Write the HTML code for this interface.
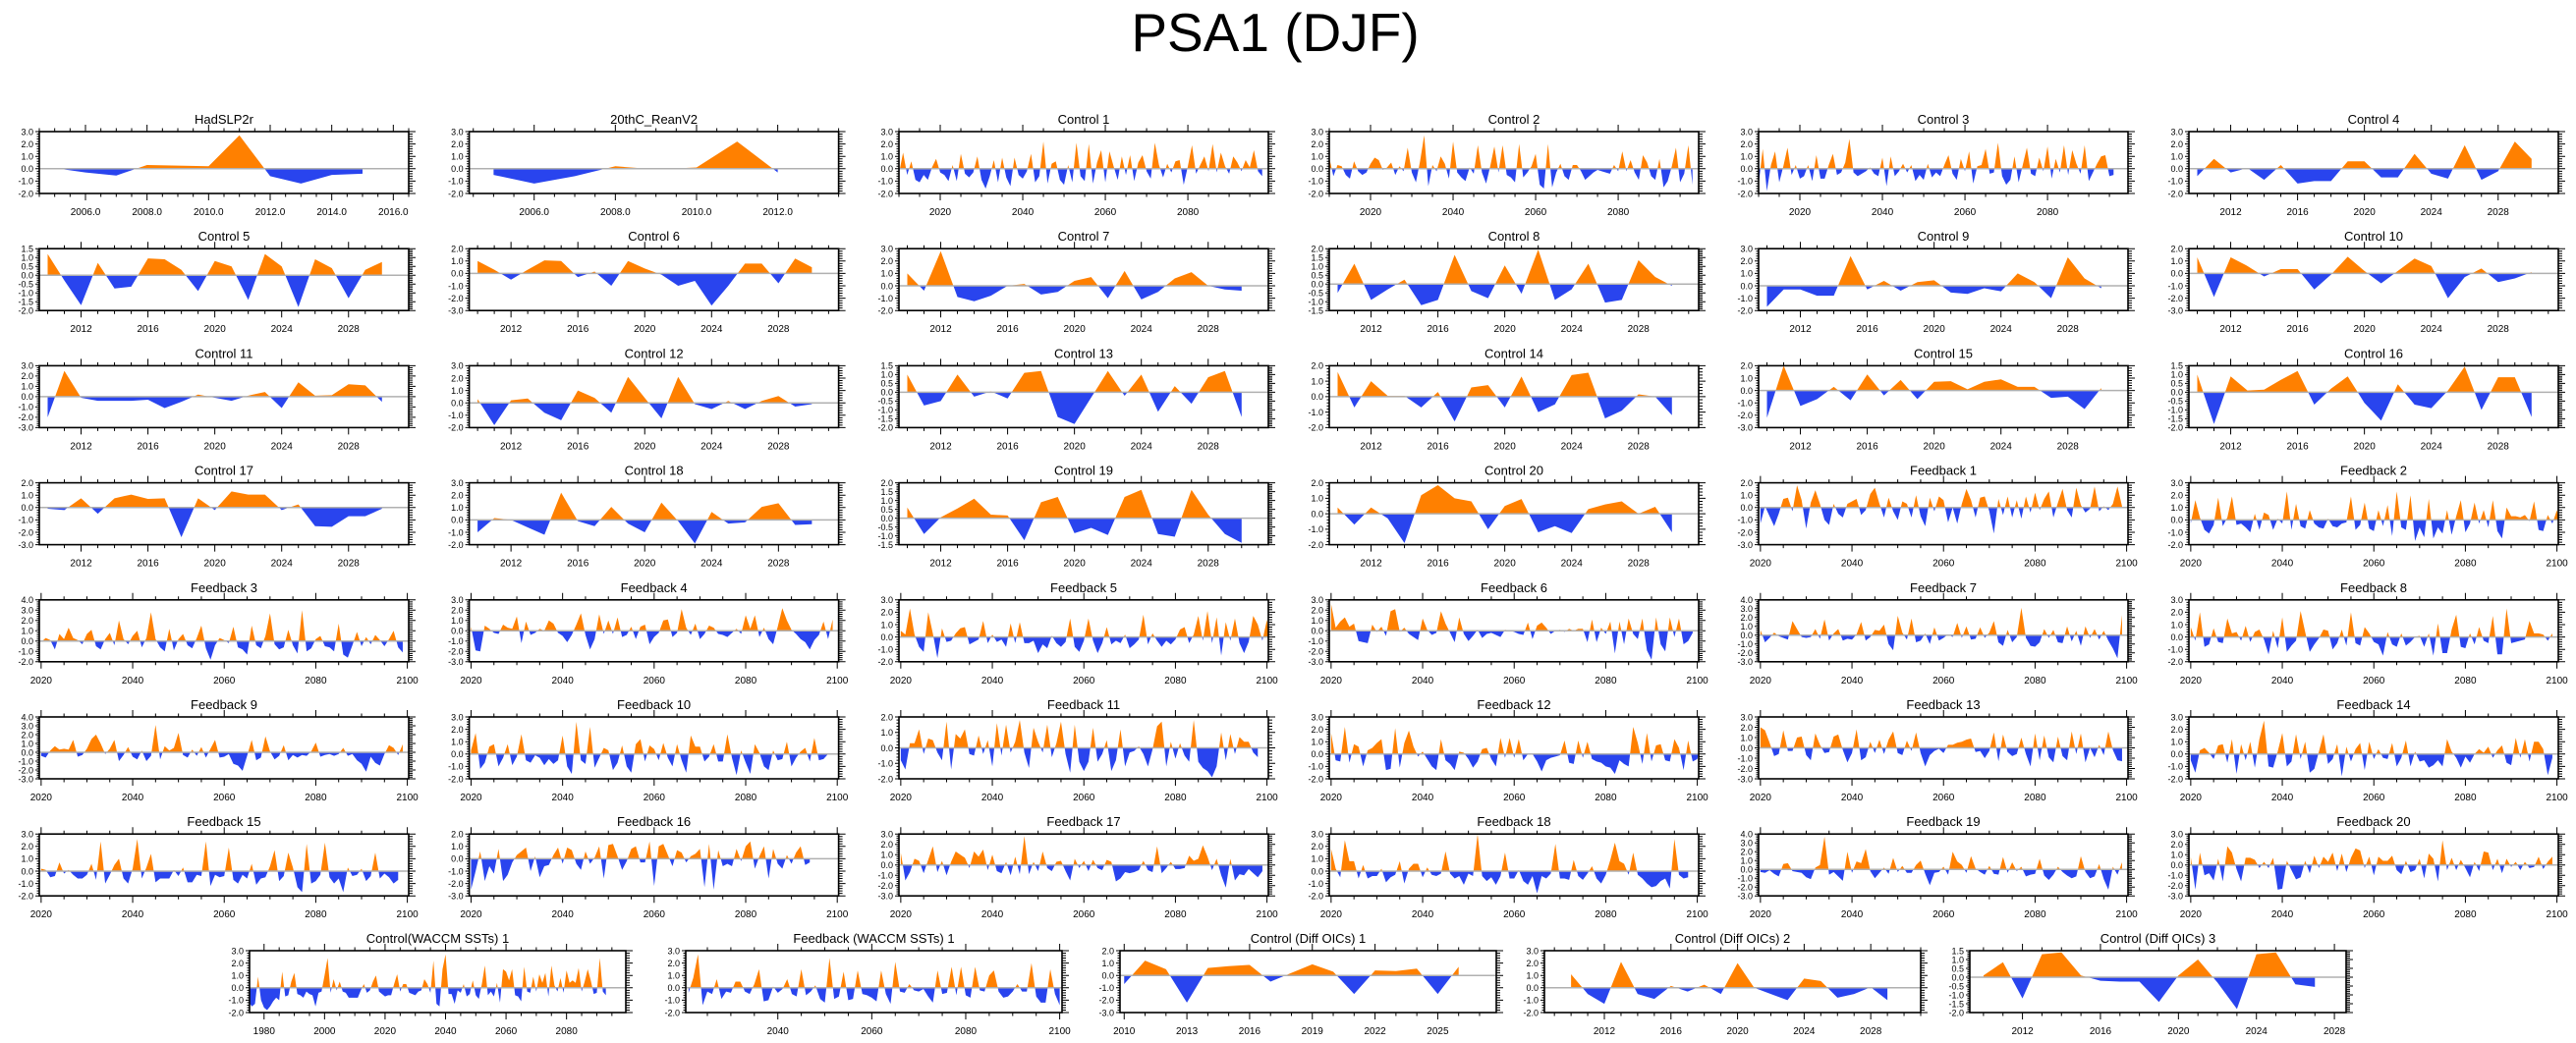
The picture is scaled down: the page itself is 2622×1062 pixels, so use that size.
<!DOCTYPE html>
<html><head><meta charset="utf-8"><title>PSA1 (DJF)</title>
<style>
html,body{margin:0;padding:0;background:#fff;}
svg{display:block;font-family:"Liberation Sans",Arial,sans-serif;}
</style></head>
<body>
<svg id="fig" width="2622" height="1062" viewBox="0 0 2622 1062" xmlns="http://www.w3.org/2000/svg">
<rect x="0" y="0" width="2622" height="1062" fill="#fff"/>
<text x="1298" y="52" font-size="55" text-anchor="middle" fill="#000">PSA1 (DJF)</text>
</svg>
<script>
// ---- data ----
const hadslp2r = [0.05,-0.3,-0.55,0.3,0.25,0.2,2.7,-0.6,-1.2,-0.5,-0.4];
const reanv2 = [-0.5,-1.2,-0.6,0.2,-0.05,0.1,2.2,-0.3];
const control1 = [-0.4,1.3,-0.5,0.6,-0.9,-1.1,-0.5,-0.9,0.1,0.8,-0.3,-0.5,-1.0,0.3,-1.0,1.2,-0.4,-0.7,-0.3,1.0,-0.9,-1.6,-0.6,0.7,-1.1,0.9,-0.7,-1.4,0.9,-0.5,-0.8,-0.2,1.2,-1.1,-0.6,2.2,-1.2,0.4,0.6,-0.9,-1.3,0.3,-1.1,2.1,-0.6,-1.0,2.0,-1.2,0.5,1.5,-1.1,1.4,0.2,-0.9,1.0,-0.5,1.1,-1.0,0.5,1.1,-0.2,-0.8,2.1,0.3,-0.7,0.4,-0.3,0.6,0.7,-1.3,0.2,1.9,-0.4,0.3,1.0,-0.2,2.0,-0.3,1.3,0.2,-0.4,1.0,0.5,-0.2,0.7,0.1,1.5,-0.2,-0.6];
const control2 = [0.9,-0.6,0.3,0.2,-0.5,-0.8,0.6,-0.2,-0.5,-0.3,0.4,0.9,0.7,-0.1,0.1,0.5,-0.5,0.2,-0.2,1.7,-0.3,-1.1,0.6,2.7,-1.4,0.3,-0.2,1.0,0.4,-0.8,2.2,-0.3,-0.7,-1.0,0.1,-0.4,1.9,-0.3,-1.2,0.2,1.8,-0.3,1.9,-0.5,-0.7,-1.1,2.0,-0.7,-0.3,0.2,1.2,-1.3,-1.6,2.0,-1.5,-0.3,0.4,-0.6,-0.9,0.3,0.3,-0.2,-0.9,-0.6,-0.3,-0.1,-0.2,-0.3,-0.4,0.3,-0.2,1.4,-0.2,0.7,-0.3,-0.9,1.1,0.5,-0.6,-0.9,0.8,-1.5,-1.0,0.2,1.7,-1.1,-0.4,1.9,-1.3];
const control3 = [-1.3,1.6,-1.8,0.3,1.4,-1.1,0.2,1.7,-0.5,0.3,-0.8,-0.6,0.3,-1.0,1.1,-0.8,-0.8,0.3,1.2,-0.5,-0.3,0.5,2.4,-0.3,-0.6,-0.4,-0.2,0.1,-0.4,-0.6,0.9,-1.4,1.0,-0.6,-0.2,0.4,-0.3,0.3,-1.0,-0.5,-0.9,0.4,-0.7,-0.3,-0.6,0.3,1.1,-0.4,-0.9,0.8,-0.2,1.4,-1.2,0.2,0.3,1.6,-0.4,-0.3,2.1,-0.6,-1.3,-0.9,1.0,-1.1,0.3,1.7,-0.4,-0.6,0.9,-0.2,1.8,-0.8,0.8,-0.3,1.9,-0.5,1.5,0.4,-0.4,1.9,-1.0,-0.3,0.4,1.0,1.1,-0.6,-0.5];
const control4 = [-0.6,0.8,-0.3,0.05,-0.9,0.3,-1.2,-1.0,-1.0,0.6,0.6,-0.7,-0.7,1.2,-0.4,-0.8,1.9,-0.9,-0.2,2.2,0.8];
const control5 = [1.2,-0.3,-1.7,0.7,-0.75,-0.65,0.95,0.9,0.3,-0.9,0.8,0.5,-1.4,1.2,0.5,-1.8,0.9,0.4,-1.3,0.3,0.75];
const control6 = [1.0,0.3,-0.5,0.3,1.05,1.0,-0.3,0.15,-1.0,1.0,0.4,-0.1,-1.0,-0.6,-2.6,-1.0,0.8,0.8,-0.8,1.2,0.5];
const control7 = [1.0,-0.4,2.8,-0.9,-1.25,-0.8,0.0,0.15,-0.7,-0.5,0.4,0.7,-1.0,1.2,-1.1,-0.5,0.6,1.1,0.0,-0.3,-0.4];
const control8 = [-0.5,1.15,-0.9,-0.3,0.25,-1.2,-0.9,1.65,-0.4,-0.8,1.05,-0.55,1.95,-0.9,-0.3,1.15,-1.05,-0.9,1.35,0.4,-0.1];
const control9 = [-1.7,-0.3,-0.3,-0.8,-0.8,2.4,-0.3,0.4,-0.4,0.3,0.45,-0.55,-0.65,-0.2,-0.45,1.0,0.3,-1.0,2.3,0.6,-0.2];
const control10 = [1.3,-1.9,1.3,0.6,-0.25,0.35,0.35,-1.3,-0.1,1.35,0.2,-0.8,0.2,1.2,0.6,-2.0,-0.3,0.4,-0.7,-0.4,0.1];
const control11 = [-2.0,2.5,-0.1,-0.4,-0.4,-0.4,-0.3,-1.1,-0.5,0.2,-0.1,-0.4,0.1,0.45,-1.1,1.4,0.1,0.15,1.2,1.1,-0.5];
const control12 = [0.3,-1.8,0.2,0.35,-0.8,-1.4,1.0,0.4,-0.8,2.1,0.4,-1.25,2.1,-0.1,-0.5,0.15,-0.5,0.15,0.55,-0.3,-0.1];
const control13 = [1.0,-0.75,-0.5,1.0,-0.25,0.05,-0.35,1.1,1.2,-1.4,-1.8,-0.3,1.2,-0.2,1.0,-1.1,0.35,-0.65,0.85,1.2,-1.4];
const control14 = [1.6,-0.7,1.0,0.05,0.05,-0.7,0.3,-1.6,0.6,0.75,-0.7,1.3,-1.0,-0.5,1.4,1.55,-1.4,-0.9,0.15,0.0,-1.2];
const control15 = [-2.2,2.0,-1.25,-0.7,0.3,-0.8,1.3,-0.4,0.85,-0.7,0.7,0.75,0.1,0.7,0.9,0.3,0.3,-0.6,-0.5,-1.5,0.2];
const control16 = [1.0,-1.8,0.9,0.1,0.15,0.7,1.2,-0.7,0.2,0.9,-0.6,-1.6,0.45,-0.7,-0.9,0.1,1.45,-1.0,0.85,0.85,-1.4];
const control17 = [-0.1,-0.2,0.75,-0.5,0.75,1.05,0.7,0.75,-2.4,0.75,-0.2,1.3,1.05,1.05,-0.2,0.25,-1.5,-1.55,-0.7,-0.7,-0.1];
const control18 = [-1.0,0.15,0.0,-0.6,-1.2,2.2,-0.1,-0.5,1.05,-0.3,-1.0,1.4,-0.1,-1.9,0.65,-0.3,-0.2,1.05,1.35,-0.4,-0.35];
const control19 = [0.6,-0.9,0.05,0.55,1.1,0.2,0.15,-1.25,0.9,1.2,-0.85,-0.55,-0.95,1.2,1.6,-0.9,-1.05,1.6,0.2,-0.9,-1.4];
const control20 = [0.4,-0.7,0.4,-0.3,-1.9,1.2,1.85,1.0,0.8,-1.0,0.5,0.95,-1.2,-0.8,-1.25,0.3,0.6,0.8,0.0,0.45,-1.2];
const feedback1 = [-1.3,0.1,-0.7,-1.5,-0.5,0.7,0.8,-0.3,1.8,0.6,-1.7,0.4,1.4,0.3,-1.0,-1.4,0.3,-0.5,-0.8,0.3,0.5,0.7,-0.6,-0.2,1.1,1.6,0.3,-0.8,0.8,-0.3,-1.0,0.5,0.3,-0.8,1.0,-0.7,-1.5,0.8,-0.3,0.9,0.6,-1.2,0.0,-1.3,0.3,1.5,0.6,-0.8,0.8,0.9,-0.3,-2.1,0.7,-0.6,0.9,-0.8,0.6,-0.9,0.9,-0.4,1.2,-0.2,0.7,1.3,-0.8,0.4,1.5,-0.2,-0.8,1.6,0.2,-0.4,-0.1,1.7,-0.3,0.1,-0.2,0.3,1.7,0.1];
const feedback2 = [-0.3,1.6,0.2,-0.8,-1.1,-0.4,1.8,-0.5,0.2,1.9,-0.4,-0.3,-0.6,-1.0,0.5,-0.8,0.6,0.4,-0.8,0.1,-0.3,2.3,-0.8,1.3,-0.5,-0.7,0.8,-0.3,-0.6,-0.7,0.1,-0.5,-0.6,-0.3,-0.2,1.9,-0.8,-0.4,1.4,-0.7,-0.9,0.8,-0.5,1.2,-1.3,2.3,-0.6,-0.8,2.0,-1.7,-0.6,-1.4,1.7,-1.5,-0.6,-1.1,0.8,-1.2,0.3,1.6,-1.0,-0.3,1.4,-0.3,0.8,-0.6,1.6,-0.9,-1.5,1.0,0.3,0.3,0.2,0.4,-0.1,1.5,-0.8,-0.9,0.4,-0.3,0.8,-1.0,-0.9];
const feedback3 = [-0.1,0.3,0.1,-0.8,0.7,0.2,1.3,0.3,0.1,-0.3,0.7,1.1,-0.5,-0.8,0.2,0.8,-0.4,2.0,0.2,-0.3,0.5,1.0,-0.6,0.3,2.8,0.2,-0.6,-1.0,1.2,-0.9,0.2,0.7,-0.4,-0.7,0.3,1.5,-0.7,-1.8,-0.4,0.3,0.1,-0.2,1.4,-0.6,-0.8,-1.3,1.5,-0.4,-0.7,0.5,2.7,-0.3,-0.8,-0.6,1.1,-0.4,-1.2,3.0,-1.0,-0.7,0.2,0.5,-0.5,-0.6,-1.0,1.7,-1.3,-1.6,-0.4,0.9,-0.5,0.4,-0.3,0.6,0.1,-0.5,0.2,1.0,-0.6,-1.1];
const feedback4 = [0.4,-1.9,-2.0,0.5,0.2,-0.2,-0.3,0.6,0.3,0.2,1.4,-1.2,0.9,-0.4,-0.2,0.2,0.0,1.0,0.7,-0.2,-0.5,-1.1,-0.4,0.6,1.7,-0.4,-1.8,-0.8,1.6,-0.3,1.0,-0.3,1.3,-0.6,-0.4,0.4,-0.8,0.4,0.6,-1.3,-0.6,-0.2,1.0,1.1,-0.6,-0.2,2.1,0.3,-0.4,0.7,-0.8,-0.3,0.5,0.3,-0.3,-0.4,-0.6,-0.2,0.2,-0.3,1.5,0.2,1.5,-0.6,0.3,-0.8,-1.3,0.4,2.2,1.0,0.1,-0.3,-0.8,-1.1,-1.8,-0.9,-0.4,0.9,-0.8,1.1];
const feedback5 = [0.5,0.2,2.3,0.2,-0.8,-1.2,2.0,0.3,-1.7,0.7,-0.4,-0.3,0.3,0.7,0.8,-0.6,-0.4,-0.2,1.3,-0.5,0.2,-0.4,-0.2,-0.8,1.1,-0.5,1.2,-0.5,-0.5,-0.3,-1.3,-0.6,-0.9,0.1,-0.5,-0.8,-0.4,1.5,-0.8,-1.2,-0.3,1.5,-0.3,-1.3,-0.5,0.8,-0.6,-0.3,-0.5,0.2,-0.9,-0.6,-0.2,1.8,-0.6,0.3,-0.3,-0.8,-0.3,-0.6,-0.2,0.6,0.8,-0.5,0.2,1.7,-0.3,2.1,-0.5,1.6,-1.5,1.2,-0.3,1.5,-0.5,-1.3,-0.4,1.7,1.0,-0.3,1.4,-1.8,0.5];
const feedback6 = [2.6,0.3,0.9,1.3,0.4,0.7,-1.0,-1.1,-1.2,0.6,-0.1,0.4,-0.5,1.9,2.1,-0.1,0.3,-0.3,-0.6,-0.9,1.2,0.1,-0.4,-0.2,1.9,0.7,-0.2,-1.1,1.3,-0.3,-1.0,-0.5,0.1,-0.7,-0.3,-0.2,-0.4,-0.6,0.1,0.0,-0.1,-0.3,-0.4,0.8,-0.8,0.5,0.8,0.3,-0.3,0.0,0.1,-0.1,0.2,0.0,0.2,0.2,-1.1,1.1,-1.1,0.3,-0.3,0.9,-2.2,0.9,-1.3,1.2,-0.3,-0.8,1.2,-1.9,-2.8,1.3,-1.3,-2.0,1.3,-0.6,1.2,-1.3,-1.0,-0.2];
const feedback7 = [0.6,-0.8,-0.3,0.3,-0.1,-0.3,-0.5,1.6,0.7,-0.2,-0.3,-0.2,0.7,-0.4,1.8,-0.6,0.2,0.7,-0.6,-0.4,-0.5,0.1,1.5,-0.6,-0.2,0.6,0.5,1.2,-1.0,-1.7,2.2,0.3,-0.5,1.9,-0.8,-0.6,0.2,-1.0,0.9,-0.6,-0.3,0.1,-0.2,1.4,-0.3,1.0,-0.5,-0.4,0.9,-0.3,0.3,1.6,-0.8,-1.2,0.6,-0.8,-0.2,3.1,-0.3,-1.2,-1.3,-0.8,0.7,-0.3,0.6,-0.8,-0.9,1.0,-0.7,0.5,-1.2,1.0,-0.3,0.7,-0.5,0.5,-0.6,-1.5,-2.6,2.3];
const feedback8 = [0.8,-0.3,2.0,-0.8,-0.6,0.7,-0.4,-0.5,1.5,0.3,0.4,-0.3,0.9,-0.4,0.4,0.6,-0.2,-1.4,0.5,-0.9,1.6,-1.2,-0.7,-0.3,2.1,0.4,-1.2,-0.6,-0.1,0.6,0.5,-1.0,-0.5,0.6,-0.7,2.0,-0.5,-0.7,0.8,0.3,-0.4,-0.6,-1.5,0.4,-0.6,-0.8,0.3,-0.7,-0.4,0.0,0.1,-0.8,0.3,-1.5,1.1,-1.3,-1.3,0.6,1.8,-0.8,-0.9,0.3,-0.6,0.8,-0.3,-0.5,1.7,-1.4,-1.4,2.3,-0.5,-0.4,-0.3,-0.2,1.3,0.3,0.3,0.2,-0.3,0.3];
const feedback9 = [-0.4,-0.6,0.2,0.7,0.3,0.4,0.3,1.4,-0.5,-0.3,0.4,1.5,2.0,1.0,-0.2,0.4,1.4,-1.0,-0.3,0.6,-0.5,-0.8,0.2,-1.0,-0.4,3.1,-0.8,0.7,0.2,0.5,2.2,-0.3,-0.6,0.3,-0.4,0.6,-0.6,0.4,1.4,-0.6,-0.5,-0.2,-1.3,-1.5,-2.1,-0.4,1.4,-0.9,-0.6,1.8,0.1,-0.8,-0.4,0.8,-0.9,-0.3,-0.6,-0.3,-0.4,0.1,1.1,-0.5,-0.3,-0.2,-0.4,-0.2,0.5,-0.4,-0.2,-0.9,-1.3,-2.2,-0.5,-1.2,-1.5,-0.2,0.8,0.5,-0.3,0.9];
const feedback10 = [0.3,1.7,-1.2,-0.7,0.6,0.8,-1.0,-0.3,0.8,-0.9,-0.2,1.6,-0.5,-0.7,-0.1,-0.3,-0.9,-0.4,-0.8,-0.5,1.5,-1.0,-1.6,2.6,-0.5,-0.8,2.2,-1.1,-0.3,0.5,0.3,-1.3,-0.7,0.7,-1.0,-1.5,0.8,1.2,-0.6,0.7,0.4,-0.5,0.9,-0.3,-1.0,0.8,-0.5,-1.5,1.5,0.6,0.6,-0.6,-0.2,0.8,-0.6,-0.6,1.6,-0.3,-1.7,0.3,-0.7,-1.6,0.8,0.1,-1.0,-1.3,0.3,-0.5,-0.4,1.0,-1.0,-0.3,0.2,0.5,-0.6,1.3,-0.5,-0.4,0.0];
const feedback11 = [-0.8,-1.4,0.3,0.3,1.2,-0.4,0.6,0.5,-0.3,-0.8,1.7,-1.4,0.9,0.6,1.2,-0.4,-0.5,0.8,-0.4,0.5,-1.2,1.6,-0.5,1.5,-0.3,0.4,1.8,-0.3,-1.3,1.3,0.4,-0.3,1.5,-0.6,0.3,1.7,-0.4,-1.6,1.5,-0.9,-1.5,-0.9,1.3,-0.9,-0.4,0.5,-1.5,-0.8,1.2,-1.2,-0.3,-0.2,0.1,-0.4,-1.2,-0.1,1.4,1.7,-1.2,0.4,-0.7,0.3,-0.5,-0.9,1.8,-0.9,-1.3,-1.5,-1.9,-1.2,1.0,-0.8,0.9,-0.4,0.7,0.4,0.4,-0.3,-0.6];
const feedback12 = [1.7,-0.5,-0.6,2.2,-0.7,0.8,0.6,-1.0,0.3,0.5,0.9,1.2,-1.3,-1.2,2.1,-1.1,0.9,1.9,0.6,-0.2,0.2,-0.4,-1.0,-1.3,1.2,-0.5,-0.8,-1.3,0.2,0.1,-0.4,-1.1,-0.6,0.4,0.5,-0.4,-1.0,1.3,-0.3,1.3,-0.3,1.2,-0.5,0.0,0.0,-0.6,-1.4,-0.5,-0.3,-0.2,-0.1,1.1,-0.7,-0.8,1.1,-0.3,1.0,-0.4,-0.6,-0.7,-1.0,-1.1,-1.6,-0.5,-0.8,-1.0,2.2,0.9,-0.8,1.7,-0.6,0.7,0.8,-0.5,-0.6,1.2,0.5,-1.3,1.1,-0.6,-0.4,1.3];
const feedback13 = [2.0,1.7,0.5,-0.8,-0.6,1.7,-0.3,-0.3,1.0,1.1,-0.7,-1.2,1.4,0.3,-0.5,-0.4,1.1,1.3,-0.2,-1.4,-0.5,1.8,-1.2,-0.9,0.6,-0.5,0.8,-0.6,0.8,1.6,-0.5,-0.7,0.7,-0.3,1.5,-0.5,-1.8,-0.7,-0.3,-0.1,-0.5,0.3,0.3,0.5,0.6,0.8,0.9,-0.4,-0.3,-1.0,-0.3,1.5,-1.3,1.3,-0.4,-0.8,-0.6,1.0,-0.6,-1.8,1.4,-1.2,1.2,-0.9,-1.4,1.1,-0.8,-1.2,1.6,-0.6,1.4,-1.4,0.0,-0.9,0.3,-0.7,1.6,-0.2,-1.2,-1.3];
const feedback14 = [-0.5,-1.5,0.3,0.5,0.1,-0.4,0.7,0.8,-0.7,1.2,-1.6,0.8,-0.5,1.0,-1.1,1.2,2.7,-1.0,-1.1,0.2,1.7,-1.0,-0.6,1.6,-0.4,1.0,-1.5,-1.2,0.2,1.6,-0.8,-0.4,0.8,-1.8,0.6,-0.6,0.4,0.9,-1.3,1.0,-0.4,0.4,-0.3,-0.4,0.9,-1.0,-0.3,1.1,-1.0,0.2,-0.6,-0.5,-1.1,-0.9,-0.5,-1.0,1.2,0.2,-0.3,-1.1,-0.2,-0.7,0.0,0.4,0.1,0.6,-0.3,0.3,0.7,-0.7,-0.9,1.3,-0.3,1.2,-0.6,1.0,1.0,0.4,-1.7,-0.3];
const feedback15 = [0.2,0.1,-0.5,-0.4,0.7,-0.2,0.1,-0.3,-0.6,-0.6,-0.3,0.6,-0.7,2.4,-1.0,-0.3,0.5,1.0,-0.6,-1.0,0.2,2.6,-0.6,0.3,1.4,-0.9,-0.6,-0.6,-0.6,0.1,-0.4,0.3,-0.9,-0.9,-0.3,-0.4,2.4,-1.2,-0.3,-0.5,-0.4,1.9,-0.7,-1.0,-0.3,-0.6,0.6,-1.1,-0.6,-0.5,0.4,1.7,-0.8,-0.4,1.5,0.3,-1.3,-1.7,2.2,-1.0,-0.8,-0.3,2.3,-0.5,-1.0,-0.6,-1.7,0.3,-0.4,-0.3,0.2,-0.8,-0.4,1.5,-0.6,-0.2,-0.5,-1.0,-0.7];
const feedback16 = [-2.5,-1.0,0.6,-1.8,-0.6,-1.2,0.8,-1.8,-1.3,-0.3,0.3,0.6,0.9,-1.0,0.2,-1.5,-0.6,-0.5,0.3,0.9,-0.4,0.9,0.7,-0.4,-0.9,0.6,-0.4,0.1,1.0,-1.6,1.1,1.2,0.2,-0.9,-0.2,0.8,1.0,-0.3,-0.3,1.4,-2.2,1.0,1.2,0.3,-0.6,0.7,0.5,-0.3,0.2,0.4,0.8,-2.3,1.2,-2.5,0.7,-0.6,-0.4,-0.6,0.8,-0.2,1.0,1.4,-0.8,0.2,1.0,-1.6,0.8,-0.4,-0.8,0.3,-0.4,0.5,1.0,-0.5,-0.3];
const feedback17 = [1.2,-1.5,-0.7,0.6,0.4,-0.8,0.5,1.8,-0.7,0.4,-1.0,0.3,1.3,1.0,0.7,-0.3,1.3,0.8,1.5,-0.5,1.0,-0.6,-0.8,0.3,-1.0,0.8,-0.9,2.8,-0.9,0.3,-0.6,1.3,-0.3,-0.6,0.3,0.4,-0.6,-1.5,0.6,-0.3,0.4,-0.6,0.5,-0.3,-0.5,0.5,0.3,-1.6,-1.3,-0.7,-0.8,-0.7,-0.5,0.4,-0.5,-0.7,1.8,-0.8,-0.3,0.3,-0.4,-0.4,-0.3,0.9,0.4,0.6,1.9,0.8,-0.5,0.6,-1.0,-2.2,0.6,-1.5,-0.9,-1.0,-0.4,-0.8,-1.2,-0.6];
const feedback18 = [1.8,0.2,-0.5,2.5,0.8,0.8,-0.6,0.5,-0.6,-0.4,-0.4,0.2,-0.9,-0.5,-0.3,0.8,-1.0,0.2,0.6,0.6,-0.5,0.3,-0.3,-0.4,-0.2,1.6,-0.2,-0.6,-0.4,-1.1,-0.2,-0.4,3.0,-0.4,-0.8,-0.5,-1.1,-0.4,1.5,-0.6,-0.6,0.1,-0.8,-1.1,-0.4,-1.8,-0.4,-0.6,-0.2,2.2,-0.6,-0.6,-0.7,0.9,-0.4,-0.7,-0.2,0.4,-0.6,-1.0,-0.3,0.9,2.3,0.8,0.6,-0.3,1.5,-0.3,-0.6,-1.0,-1.3,-1.2,-0.8,-0.6,-1.4,2.6,-0.3,-0.6,-0.5];
const feedback19 = [-0.3,-0.4,-0.1,-0.5,-0.8,0.6,0.7,-0.2,-0.3,-0.4,-0.9,-1.1,0.2,0.5,3.7,-0.6,-0.3,-0.8,-1.3,2.0,-0.4,0.9,0.7,2.3,-0.2,-1.0,-0.4,0.2,-0.5,1.3,-0.3,0.4,-0.4,-0.4,0.5,1.0,-0.5,-1.8,-0.4,-0.3,0.3,-0.6,2.0,0.9,0.5,-0.4,1.5,0.1,-0.3,-0.6,0.4,-0.5,-0.6,1.4,-0.4,0.8,-0.2,0.3,-0.8,-0.6,-0.5,1.2,-0.7,-1.2,-0.6,0.3,-0.3,-0.7,-1.0,-0.8,1.5,-0.3,-1.0,-0.8,0.6,-1.1,-2.3,0.3,-0.6,0.8];
const feedback20 = [0.8,-2.4,1.2,-1.0,-0.8,-1.5,0.6,-1.6,1.8,1.2,-0.4,-1.6,0.7,0.7,0.5,-0.3,0.3,-0.3,0.7,-2.4,-2.3,0.4,-0.5,-1.4,-1.2,0.4,-0.8,0.9,-0.3,0.8,0.3,1.2,-0.6,1.1,-0.7,0.7,1.6,1.4,-0.3,0.8,-1.0,0.8,0.4,0.4,0.9,-0.5,-0.9,0.4,-0.7,-0.5,0.6,-1.3,1.1,0.6,-1.6,2.4,-0.5,0.7,-0.5,0.5,-0.3,-1.2,0.3,-0.6,1.3,1.2,-0.5,0.6,-0.8,0.6,-0.2,0.3,-0.5,0.3,-0.3,-0.2,0.8,-0.4,0.3,0.8];
const waccmControl = [-1.2,-1.5,-1.3,0.9,-1.0,-1.6,-1.8,-1.5,-1.1,-0.8,-1.0,1.3,-0.7,-0.6,0.5,1.2,-0.5,-0.6,-0.8,-0.3,-0.5,-0.6,-1.5,-0.4,-0.3,1.0,2.4,-0.4,0.7,-0.2,0.5,-0.3,-0.4,-0.8,-0.8,-0.8,-0.8,-0.2,0.3,-0.4,-0.2,0.5,1.0,-0.3,-0.5,-0.7,-0.6,-0.6,0.3,1.1,-0.3,0.3,0.3,-0.4,-0.5,-0.6,-0.3,-0.2,0.7,0.3,-0.4,2.2,-1.3,-1.5,1.5,2.7,-0.5,-0.5,-1.3,-0.2,-0.4,0.3,-0.7,-0.5,0.6,-0.6,-0.9,0.3,1.8,-0.6,-0.3,-0.7,0.4,-1.2,1.5,1.3,0.6,1.5,-0.6,-0.7,-1.1,1.7,-0.3,-0.4,0.9,-0.3,1.1,0.4,1.2,-0.7,1.8,0.2,-0.3,0.8,-0.4,1.4,0.4,0.6,0.4,1.6,-0.3,0.5,1.5,0.6,-0.5,-0.4,2.4,-0.3,-0.6];
const waccmFeedback = [-0.4,0.8,2.7,-1.4,-0.3,-0.5,0.7,-0.9,-0.3,-0.4,0.5,0.5,-0.3,-0.5,0.3,1.5,-1.1,-1.0,0.1,-0.4,-0.1,0.7,-0.5,-0.7,1.5,-0.6,-0.3,0.2,-0.9,-1.2,2.4,-0.9,-0.7,1.3,-1.0,-0.9,1.4,-0.5,-0.6,-0.8,-1.1,1.4,-0.5,-1.3,2.1,-0.3,-0.4,0.3,-0.2,-0.3,-0.1,-0.7,-1.2,1.4,-0.5,-0.4,1.7,-0.6,1.7,-0.6,-0.8,1.7,-0.2,-0.3,1.0,1.4,-0.3,-0.8,-0.7,-0.3,0.3,-0.3,-0.3,2.0,-0.7,-1.2,-1.2,1.5,-0.5,-1.4];
const diffOICs1 = [-0.7,1.2,0.5,-2.2,0.6,0.75,0.85,-0.5,0.2,0.9,0.3,-1.5,0.4,0.35,0.55,-1.5,0.7];
const diffOICs2 = [1.1,-0.5,-1.3,2.1,-0.5,-0.9,0.15,-0.3,0.25,-0.5,2.0,0.0,-0.5,-1.0,0.75,0.55,-0.8,-0.5,0.05,-1.0];
const diffOICs3 = [0.1,0.85,-1.2,1.3,1.4,0.1,-0.2,-0.25,-0.25,-1.4,0.1,1.0,-0.3,-1.8,1.3,1.4,-0.4,-0.55];

// tick label arrays
const ticksHad = [2006,2008,2010,2012,2014,2016];
const ticksRean = [2006,2008,2010,2012];
const ticksLong = [2020,2040,2060,2080];
const ticksShort = [2012,2016,2020,2024,2028];
const ticksFb = [2020,2040,2060,2080,2100];
const ticksWaccmC = [1980,2000,2020,2040,2060,2080];
const ticksWaccmF = [2040,2060,2080,2100];
const ticksOIC1 = [2010,2013,2016,2019,2022,2025];

// ---- panel configs (layout separate from data) ----
const COLX=[40,477.6,915,1353,1790,2228], PW=376, PH=63;
function rowTop(r){return 134+119.2*r;}
const S={xr:[2009.5,2031.6],tk:ticksShort,mn:1,start:2010};
const L={xr:[2010,2099.5],tk:ticksLong,mn:5,start:2010};
const F={xr:[2019.6,2100.3],tk:ticksFb,mn:5,start:2020};
const panels=[
 [0,0,"HadSLP2r",hadslp2r,{xr:[2004.5,2016.5],tk:ticksHad,mn:0.5,start:2005,dec:1},3,-2,1],
 [0,1,"20thC_ReanV2",reanv2,{xr:[2004.4,2013.5],tk:ticksRean,mn:0.5,start:2005,dec:1},3,-2,1],
 [0,2,"Control 1",control1,L,3,-2,1],[0,3,"Control 2",control2,L,3,-2,1],
 [0,4,"Control 3",control3,L,3,-2,1],[0,5,"Control 4",control4,S,3,-2,1],
 [1,0,"Control 5",control5,S,1.5,-2,0.5],[1,1,"Control 6",control6,S,2,-3,1],
 [1,2,"Control 7",control7,S,3,-2,1],[1,3,"Control 8",control8,S,2,-1.5,0.5],
 [1,4,"Control 9",control9,S,3,-2,1],[1,5,"Control 10",control10,S,2,-3,1],
 [2,0,"Control 11",control11,S,3,-3,1],[2,1,"Control 12",control12,S,3,-2,1],
 [2,2,"Control 13",control13,S,1.5,-2,0.5],[2,3,"Control 14",control14,S,2,-2,1],
 [2,4,"Control 15",control15,S,2,-3,1],[2,5,"Control 16",control16,S,1.5,-2,0.5],
 [3,0,"Control 17",control17,S,2,-3,1],[3,1,"Control 18",control18,S,3,-2,1],
 [3,2,"Control 19",control19,S,2,-1.5,0.5],[3,3,"Control 20",control20,S,2,-2,1],
 [3,4,"Feedback 1",feedback1,F,2,-3,1],[3,5,"Feedback 2",feedback2,F,3,-2,1],
 [4,0,"Feedback 3",feedback3,F,4,-2,1],[4,1,"Feedback 4",feedback4,F,3,-3,1],
 [4,2,"Feedback 5",feedback5,F,3,-2,1],[4,3,"Feedback 6",feedback6,F,3,-3,1],
 [4,4,"Feedback 7",feedback7,F,4,-3,1],[4,5,"Feedback 8",feedback8,F,3,-2,1],
 [5,0,"Feedback 9",feedback9,F,4,-3,1],[5,1,"Feedback 10",feedback10,F,3,-2,1],
 [5,2,"Feedback 11",feedback11,F,2,-2,1],[5,3,"Feedback 12",feedback12,F,3,-2,1],
 [5,4,"Feedback 13",feedback13,F,3,-3,1],[5,5,"Feedback 14",feedback14,F,3,-2,1],
 [6,0,"Feedback 15",feedback15,F,3,-2,1],[6,1,"Feedback 16",feedback16,F,2,-3,1],
 [6,2,"Feedback 17",feedback17,F,3,-3,1],[6,3,"Feedback 18",feedback18,F,3,-2,1],
 [6,4,"Feedback 19",feedback19,F,4,-3,1],[6,5,"Feedback 20",feedback20,F,3,-3,1]
];
const bottom=[
 [254,"Control(WACCM SSTs) 1",waccmControl,{xr:[1975.2,2099.6],tk:ticksWaccmC,mn:5,start:1975},3,-2,1],
 [698,"Feedback (WACCM SSTs) 1",waccmFeedback,{xr:[2020.4,2100.5],tk:ticksWaccmF,mn:5,start:2021},3,-2,1],
 [1140,"Control (Diff OICs) 1",diffOICs1,{xr:[2009.8,2027.8],tk:ticksOIC1,mn:1,start:2010},2,-3,1],
 [1572,"Control (Diff OICs) 2",diffOICs2,{xr:[2008.4,2031],tk:ticksShort,mn:1,start:2010},3,-2,1],
 [2005,"Control (Diff OICs) 3",diffOICs3,{xr:[2009.3,2028.6],tk:ticksShort,mn:1,start:2010},1.5,-2,0.5]
];

const NS="http://www.w3.org/2000/svg";
const svg=document.getElementById('fig');
let cid=0;
function mk(tag,attrs,parent){const e=document.createElementNS(NS,tag);for(const k in attrs)e.setAttribute(k,attrs[k]);parent.appendChild(e);return e;}
function slug(s){return s.toLowerCase().replace(/[^a-z0-9]+/g,'-').replace(/^-|-$/g,'');}

function drawPanel(x0,y0,w,title,data,xc,ymax,ymin,ystep){
  const g=mk('g',{},svg);
  
  
  const xs=v=>x0+(v-xc.xr[0])/(xc.xr[1]-xc.xr[0])*w;
  const ys=v=>y0+(ymax-v)/(ymax-ymin)*PH;
  const id=cid++;
  const defs=mk('defs',{},g);
  const cp=mk('clipPath',{id:'cp'+id},defs);
  mk('rect',{x:x0,y:y0,width:w,height:ys(0)-y0},cp);
  const cn=mk('clipPath',{id:'cn'+id},defs);
  mk('rect',{x:x0,y:ys(0),width:w,height:y0+PH-ys(0)},cn);
  let d='M'+xs(xc.start).toFixed(2)+','+ys(0).toFixed(2);
  data.forEach((v,i)=>{d+=' L'+xs(xc.start+i).toFixed(2)+','+ys(v).toFixed(2);});
  d+=' L'+xs(xc.start+data.length-1).toFixed(2)+','+ys(0).toFixed(2)+' Z';
  const pos=mk('path',{d:d,fill:'#ff8000','clip-path':'url(#cp'+id+')'},g);
  
  
  const neg=mk('path',{d:d,fill:'#2944ee','clip-path':'url(#cn'+id+')'},g);
  
  
  const zl=mk('line',{x1:x0,x2:x0+w,y1:ys(0),y2:ys(0),stroke:'#b0b0b0','stroke-width':1.5},g);
  
  
  const box=mk('rect',{x:x0,y:y0,width:w,height:PH,fill:'none',stroke:'#000','stroke-width':1.6},g);
  
  
  let tp='';
  // x ticks
  const first=Math.ceil(xc.xr[0]/xc.mn-1e-6)*xc.mn;
  for(let v=first;v<=xc.xr[1]+1e-6;v+=xc.mn){
    const isMaj=xc.tk.some(t=>Math.abs(t-v)<1e-6);
    const X=xs(v).toFixed(2), L=isMaj?7:3.5;
    tp+=`M${X},${y0}v${-L}M${X},${y0+PH}v${L}`;
  }
  // y ticks
  const yminor=ystep/5;
  for(let k=0;;k++){
    const v=ymin+k*yminor; if(v>ymax+1e-6)break;
    const isMaj=Math.abs(Math.round((v-ymin)/ystep)*ystep-(v-ymin))<1e-6;
    const Y=ys(v).toFixed(2);
    tp+=`M${x0},${Y}h${isMaj?-4:-2.5}M${x0+w},${Y}h${isMaj?7:4}`;
  }
  const ticks=mk('path',{d:tp,stroke:'#000','stroke-width':1,fill:'none'},g);
  
  
  const t=mk('text',{x:x0+w/2,y:y0-8,'font-size':13,'text-anchor':'middle'},g);
  t.textContent=title;
  
  
  xc.tk.forEach(v=>{
    const tl=mk('text',{x:xs(v),y:y0+PH+22,'font-size':10,'text-anchor':'middle'},g);
    tl.textContent=xc.dec?v.toFixed(xc.dec):String(v);
    
    
  });
  for(let v=ymax;v>=ymin-1e-6;v-=ystep){
    const yl=mk('text',{x:x0-6,y:ys(v)+3.3,'font-size':9,'text-anchor':'end'},g);
    yl.textContent=(Math.abs(v)<1e-9?0:v).toFixed(1);
    
    
  }
}
panels.forEach(p=>drawPanel(COLX[p[1]],rowTop(p[0]),PW,p[2],p[3],p[4],p[5],p[6],p[7]));
bottom.forEach(p=>drawPanel(p[0],968,383,p[1],p[2],p[3],p[4],p[5],p[6]));
</script>
</body></html>
